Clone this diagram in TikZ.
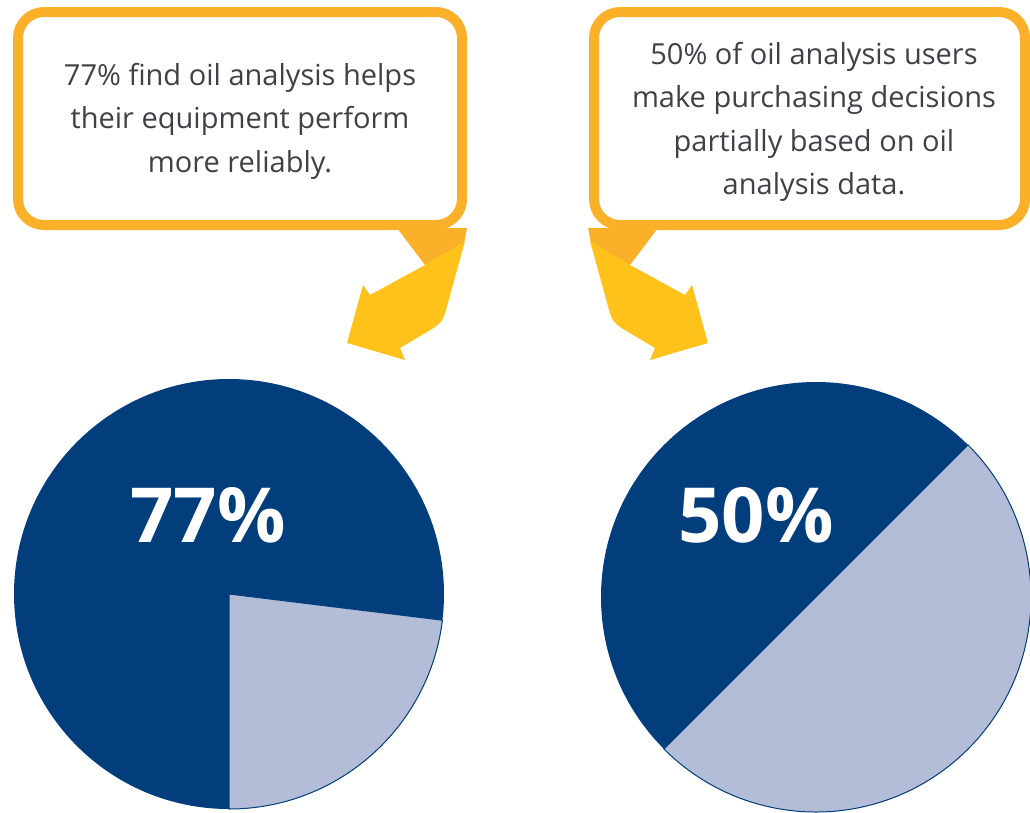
\documentclass[tikz,border=0pt]{standalone}
\usepackage{fontspec}
\setmainfont{Open Sans}
\usepackage{tikz}
\definecolor{calloutorange}{HTML}{FBB02A}
\definecolor{arrowyellow}{HTML}{FFC21A}
\definecolor{piedark}{HTML}{023D7C}
\definecolor{pielight}{HTML}{B4BDD8}
\definecolor{notegray}{HTML}{404048}

\begin{document}
\begin{tikzpicture}[x=1pt, y=-1pt,
	callout/.style={draw=calloutorange, line width=10, rounded corners=26, fill=white, minimum height=213},
	note/.style={align=center, text=notegray, font=\fontsize{29}{43.5}\selectfont},
	pie/.style={circle, fill=piedark, minimum size=430, inner sep=0},
	share/.style={text=white, font=\fontsize{76}{76}\selectfont\bfseries}]
\useasboundingbox (0,0) rectangle (1030,812);

% callouts
\node [callout, minimum width=444] (leftbox) at (240,118.5) {};
\node [callout, minimum width=431] (rightbox) at (809.5,118.5) {};
\node [note] (leftnote) at (240,121) {77\% find oil analysis helps\\their equipment perform\\more reliably.};
\node [note] (rightnote) at (814,122) {50\% of oil analysis users\\make purchasing decisions\\partially based on oil\\analysis data.};

% arrows
\fill [calloutorange] (397,228) -- (467,228) -- (464,243) -- (425,265) -- cycle;
\fill [arrowyellow] (425,265) -- (465,241) -- (446,310) .. controls (442,322) .. (432,329) -- (400,348) -- (405,360) -- (347,343) -- (363,285) -- (370,295) -- cycle;
\begin{scope}[xshift=1055, xscale=-1]
	\fill [calloutorange] (397,228) -- (467,228) -- (464,243) -- (425,265) -- cycle;
	\fill [arrowyellow] (425,265) -- (465,241) -- (446,310) .. controls (442,322) .. (432,329) -- (400,348) -- (405,360) -- (347,343) -- (363,285) -- (370,295) -- cycle;
\end{scope}

% pies
\node [pie] (leftpie) at (229,594) {};
\fill [pielight, draw=piedark, line width=1] (leftpie.center) -- ++(7:215) arc [start angle=7, end angle=90, radius=215] -- cycle;
\node [share] (leftshare) at (208,515) {77\%};

\node [pie] (rightpie) at (816,597) {};
\fill [pielight, draw=piedark, line width=1] (rightpie.center) -- ++(-45:215) arc [start angle=-45, end angle=135, radius=215] -- cycle;
\node [share] (rightshare) at (756,515) {50\%};
\end{tikzpicture}
\end{document}
